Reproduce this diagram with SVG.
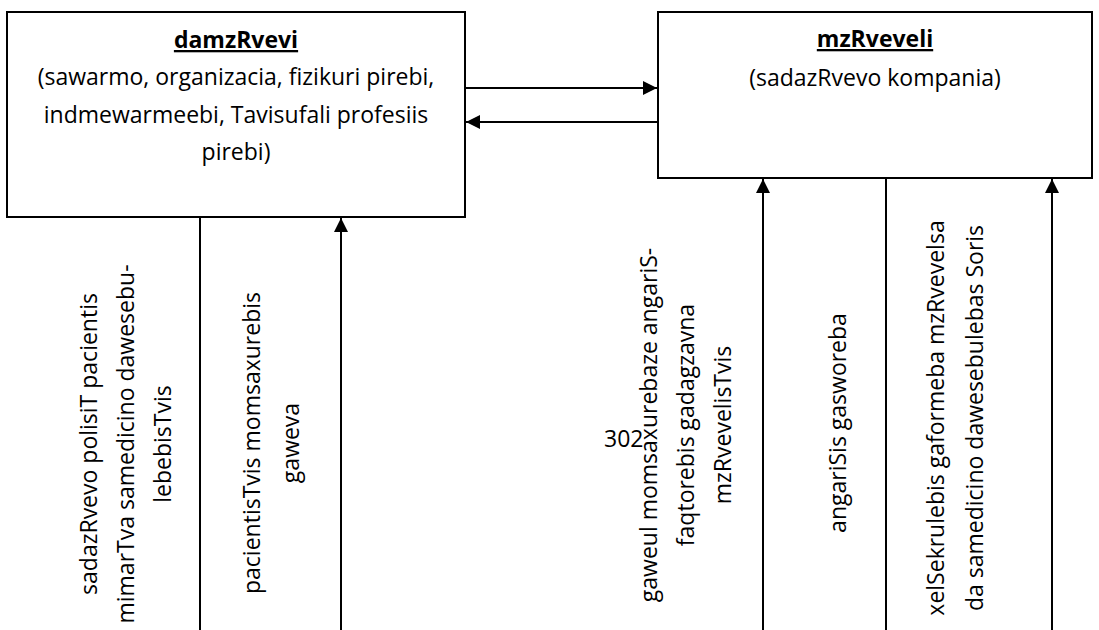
<svg xmlns="http://www.w3.org/2000/svg" width="1099" height="630" viewBox="0 0 1099 630">
  <style>
    .box { fill: #ffffff; stroke: #000000; stroke-width: 2; }
    .line { fill: none; stroke: #000000; stroke-width: 2; }
    .t { font-family: "Open Sans", "Liberation Sans", sans-serif; font-size: 23px; fill: #000000; }
    .title { font-weight: bold; text-decoration: underline; }
  </style>
  <defs>
    <marker id="arrow" viewBox="0 0 10 10" refX="10" refY="5" markerWidth="7" markerHeight="7" markerUnits="strokeWidth" orient="auto">
      <path d="M0,0 L10,5 L0,10 z" fill="#000000"/>
    </marker>
  </defs>
  <rect width="1099" height="630" fill="#ffffff"/>

  <!-- policy holder -->
  <g id="damzRvevi">
    <rect class="box" x="7" y="12" width="458" height="205"/>
    <text class="t title" x="236" y="48" text-anchor="middle">damzRvevi</text>
    <text class="t" x="236" y="85" text-anchor="middle">(sawarmo, organizacia, fizikuri pirebi,</text>
    <text class="t" x="236" y="123" text-anchor="middle">indmewarmeebi, Tavisufali profesiis</text>
    <text class="t" x="236" y="160" text-anchor="middle">pirebi)</text>
  </g>

  <!-- insurer -->
  <g id="mzRveveli">
    <rect class="box" x="658" y="12" width="434" height="166"/>
    <text class="t title" x="875" y="47" text-anchor="middle">mzRveveli</text>
    <text class="t" x="875" y="86" text-anchor="middle">(sadazRvevo kompania)</text>
  </g>

  <!-- connectors -->
  <g id="connectors">
    <line class="line" x1="465" y1="88" x2="657" y2="88" marker-end="url(#arrow)"/>
    <line class="line" x1="657" y1="122" x2="466" y2="122" marker-end="url(#arrow)"/>
    <line class="line" x1="200" y1="217" x2="200" y2="630"/>
    <line class="line" x1="341" y1="630" x2="341" y2="218" marker-end="url(#arrow)"/>
    <line class="line" x1="763" y1="630" x2="763" y2="179" marker-end="url(#arrow)"/>
    <line class="line" x1="886" y1="178" x2="886" y2="630"/>
    <line class="line" x1="1052" y1="630" x2="1052" y2="179" marker-end="url(#arrow)"/>
  </g>

  <!-- connector labels -->
  <g id="labels">
    <text class="t" transform="translate(97,444) rotate(-90)" text-anchor="middle">sadazRvevo polisiT pacientis</text>
    <text class="t" transform="translate(134,444) rotate(-90)" text-anchor="middle">mimarTva samedicino dawesebu-</text>
    <text class="t" transform="translate(171,444) rotate(-90)" text-anchor="middle">lebebisTvis</text>

    <text class="t" transform="translate(260,443) rotate(-90)" text-anchor="middle">pacientisTvis momsaxurebis</text>
    <text class="t" transform="translate(299,443) rotate(-90)" text-anchor="middle">gaweva</text>

    <text class="t" transform="translate(657,425) rotate(-90)" text-anchor="middle">gaweul momsaxurebaze angariS-</text>
    <text class="t" transform="translate(694,425) rotate(-90)" text-anchor="middle">faqtorebis gadagzavna</text>
    <text class="t" transform="translate(731,425) rotate(-90)" text-anchor="middle">mzRvevelisTvis</text>

    <text class="t" x="604" y="447">302</text>

    <text class="t" transform="translate(846,423) rotate(-90)" text-anchor="middle">angariSis gasworeba</text>

    <text class="t" transform="translate(944,418) rotate(-90)" text-anchor="middle">xelSekrulebis gaformeba mzRvevelsa</text>
    <text class="t" transform="translate(983,418) rotate(-90)" text-anchor="middle">da samedicino dawesebulebas Soris</text>
  </g>
</svg>
